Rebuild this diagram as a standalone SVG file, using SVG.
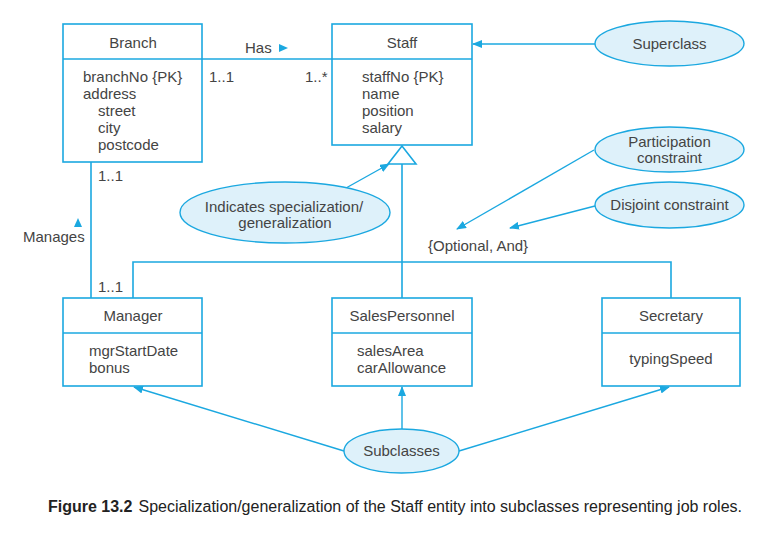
<svg xmlns="http://www.w3.org/2000/svg" width="768" height="534" viewBox="0 0 768 534">
<style>
.box{fill:#fff;stroke:#1ba8e0;stroke-width:1.6}
.ln{fill:none;stroke:#1ba8e0;stroke-width:1.6}
.con{fill:none;stroke:#1ba8e0;stroke-width:1.4}
.ell{fill:#def1fa;stroke:#1ba8e0;stroke-width:1.4}
text{font-family:"Liberation Sans",Arial,sans-serif;font-size:15px;fill:#444}
.c{text-anchor:middle}
.tri{fill:#1ba8e0}
</style>
<defs>
<marker id="ah" markerWidth="10" markerHeight="8" refX="9" refY="4" orient="auto" markerUnits="userSpaceOnUse">
<path d="M0,0 L10,4 L0,8 Z" fill="#1ba8e0"/>
</marker>
</defs>
<rect width="768" height="534" fill="#fff"/>

<g id="connectors">
<line class="ln" x1="202" y1="59" x2="332" y2="59"/>
<line class="ln" x1="91" y1="162" x2="91" y2="298"/>
<line class="ln" x1="402" y1="164" x2="402" y2="298"/>
<polyline class="ln" points="133,298 133,262 671,262 671,298"/>
<polygon points="402,146 388,164 416,164" fill="#fff" stroke="#1ba8e0" stroke-width="1.6"/>
<polygon class="tri" points="279,44 279,52 288,48"/>
<polygon class="tri" points="74,227 82,227 78,218"/>
<text x="245" y="53">Has</text>
<text x="209" y="82">1..1</text>
<text x="305" y="82">1..*</text>
<text x="98" y="181">1..1</text>
<text x="98" y="292">1..1</text>
<text x="23" y="242">Manages</text>
<text x="428" y="251">{Optional, And}</text>
<line class="con" x1="595" y1="44" x2="473" y2="44" marker-end="url(#ah)"/>
<line class="con" x1="594" y1="150" x2="457" y2="229" marker-end="url(#ah)"/>
<line class="con" x1="595" y1="206" x2="510" y2="228" marker-end="url(#ah)"/>
<line class="con" x1="346" y1="188" x2="389" y2="164" marker-end="url(#ah)"/>
<line class="con" x1="344" y1="451" x2="134" y2="387" marker-end="url(#ah)"/>
<line class="con" x1="402" y1="429" x2="402" y2="387" marker-end="url(#ah)"/>
<line class="con" x1="459" y1="451" x2="669" y2="387" marker-end="url(#ah)"/>
</g>

<g id="branch">
<rect class="box" x="63" y="24" width="139" height="138"/>
<line class="ln" x1="63" y1="59" x2="202" y2="59"/>
<text class="c" x="133" y="48">Branch</text>
<text x="83" y="82">branchNo {PK}</text>
<text x="83" y="99">address</text>
<text x="98" y="116">street</text>
<text x="98" y="133">city</text>
<text x="98" y="150">postcode</text>
</g>

<g id="staff">
<rect class="box" x="332" y="24" width="140" height="121"/>
<line class="ln" x1="332" y1="59" x2="472" y2="59"/>
<text class="c" x="402" y="48">Staff</text>
<text x="362" y="82">staffNo {PK}</text>
<text x="362" y="99">name</text>
<text x="362" y="116">position</text>
<text x="362" y="133">salary</text>
</g>

<g id="manager">
<rect class="box" x="63" y="298" width="139" height="88"/>
<line class="ln" x1="63" y1="333" x2="202" y2="333"/>
<text class="c" x="133" y="321">Manager</text>
<text x="89" y="356">mgrStartDate</text>
<text x="89" y="373">bonus</text>
</g>

<g id="salespersonnel">
<rect class="box" x="332" y="298" width="140" height="88"/>
<line class="ln" x1="332" y1="333" x2="472" y2="333"/>
<text class="c" x="402" y="321">SalesPersonnel</text>
<text x="357" y="356">salesArea</text>
<text x="357" y="373">carAllowance</text>
</g>

<g id="secretary">
<rect class="box" x="602" y="298" width="138" height="88"/>
<line class="ln" x1="602" y1="333" x2="740" y2="333"/>
<text class="c" x="671" y="321">Secretary</text>
<text class="c" x="671" y="364">typingSpeed</text>
</g>

<g id="superclass">
<ellipse class="ell" cx="669.5" cy="43.5" rx="74.5" ry="22.5"/>
<text class="c" x="669.5" y="49">Superclass</text>
</g>

<g id="participation">
<ellipse class="ell" cx="669.5" cy="149.5" rx="74.5" ry="22.5"/>
<text class="c" x="669.5" y="147">Participation</text>
<text class="c" x="669.5" y="163">constraint</text>
</g>

<g id="disjoint">
<ellipse class="ell" cx="669.5" cy="205" rx="74.5" ry="23"/>
<text class="c" x="669.5" y="210">Disjoint constraint</text>
</g>

<g id="indicates">
<ellipse class="ell" cx="285" cy="212.5" rx="105" ry="30.5"/>
<text class="c" x="284" y="212">Indicates specialization/</text>
<text class="c" x="285" y="228">generalization</text>
</g>

<g id="subclasses">
<ellipse class="ell" cx="401.5" cy="451" rx="57.5" ry="22"/>
<text class="c" x="401.5" y="456">Subclasses</text>
</g>

<text x="48" y="512" textLength="694" lengthAdjust="spacingAndGlyphs" style="font-size:16px;fill:#222"><tspan font-weight="bold">Figure 13.2</tspan><tspan dx="6">Specialization/generalization of the Staff entity into subclasses representing job roles.</tspan></text>
</svg>
